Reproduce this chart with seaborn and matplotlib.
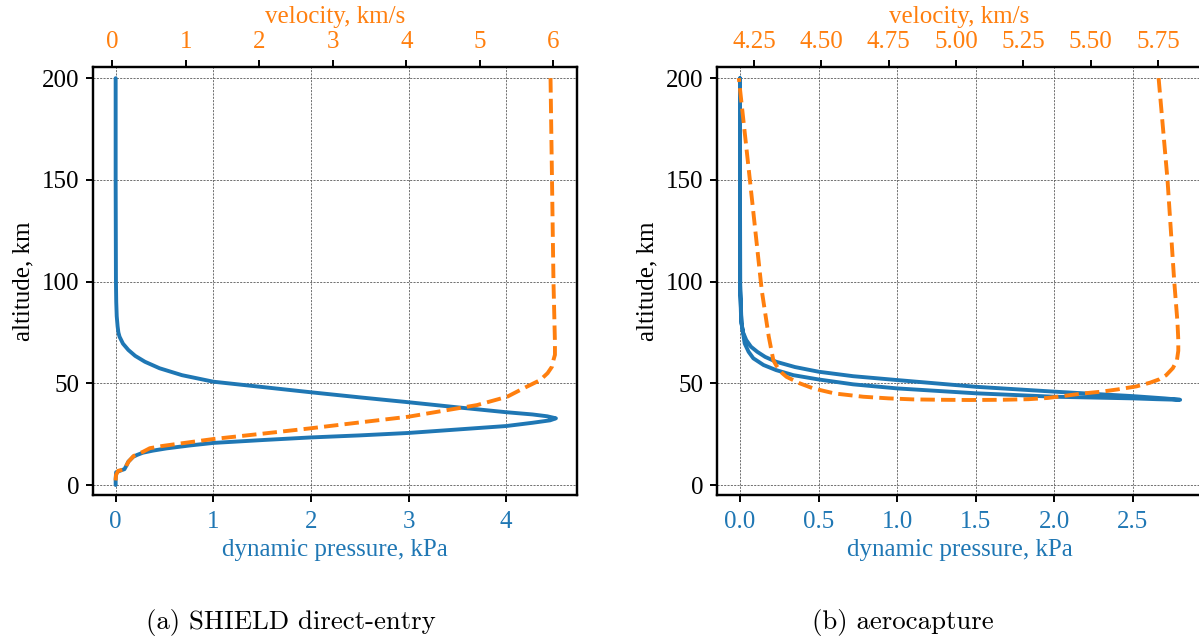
import matplotlib
matplotlib.use("Agg")
import matplotlib.pyplot as plt
import seaborn as sns

BLUE = "#1f77b4"
ORANGE = "#ff7f0e"

# ---------------- (a) SHIELD direct-entry ----------------
alt_q_a = [200, 150, 100, 90, 83, 78, 75, 72.9, 69.5, 66.4, 63.5, 60.6, 57.4, 54.0, 50.8,
           48.2, 45.6, 43.1, 40.7, 38.2, 35.8, 34.7, 33.8, 32.8, 31.8, 30.6, 29.0, 27.3,
           25.6, 24.4, 23.4, 22.1, 20.7, 19.4, 18.0, 16.9, 15.9, 14.8, 13.9, 11.5, 9.5,
           7.8, 7.3, 6.3, 3.0, 0.0]
q_a = [0.0, 0.0, 0.003, 0.006, 0.011, 0.02, 0.028, 0.04, 0.075, 0.13, 0.2, 0.30, 0.45, 0.68, 1.0,
       1.5, 2.0, 2.5, 3.0, 3.5, 4.0, 4.27, 4.42, 4.51, 4.45, 4.27, 4.0, 3.5,
       3.0, 2.5, 2.0, 1.5, 1.0, 0.75, 0.52, 0.38, 0.28, 0.22, 0.18, 0.13, 0.11,
       0.09, 0.06, 0.005, 0.0, 0.0]

alt_v_a = [200, 150, 100, 70, 64, 61.5, 58.2, 55, 51.6, 47.5, 43.4, 39.3, 36.5, 33.6, 30.8,
           27.9, 25.2, 22.6, 20.3, 19.2, 18.1, 16.4, 14.3, 11.5, 9.5, 7.7, 7.0, 4.9, 0.0]
v_a = [5.96, 5.98, 6.00, 6.02, 6.02, 6.00, 5.98, 5.92, 5.82, 5.59, 5.37, 4.96, 4.50, 4.03, 3.37,
       2.70, 2.03, 1.37, 0.90, 0.68, 0.51, 0.42, 0.29, 0.22, 0.19, 0.17, 0.08, 0.05, 0.04]

# ---------------- (b) aerocapture ----------------
alt_q_b = [200, 150, 100, 95.8, 85, 79.5, 75, 71.3, 68, 65.5, 63, 60.6, 58, 55.7, 53.5, 51.6,
           48.3, 45.9, 43.7, 42.6, 41.9,
           42.2, 42.6, 43.4, 45.1, 47.5, 49.5, 51.9, 54, 56.5, 59, 62.3, 65.5, 69.6, 79.5,
           95.8, 150, 200]
q_b = [0.0, 0.0, 0.0, 0.002, 0.006, 0.01, 0.02, 0.04, 0.07, 0.11, 0.16, 0.23, 0.35, 0.50, 0.72,
       1.0, 1.5, 2.0, 2.5, 2.7, 2.80,
       2.65, 2.5, 2.0, 1.5, 1.0, 0.72, 0.5, 0.34, 0.23, 0.15, 0.085, 0.055, 0.03, 0.01,
       0.002, 0.0, 0.0]

alt_v_b = [200, 150, 100, 80, 71.3, 66, 61.4, 57.5, 54, 52, 50.3, 48.5, 47, 45.9, 45, 43.8,
           42.8, 42.2, 41.9, 41.8, 41.9, 42.1, 42.6, 43.4, 45, 47.5, 50, 53.2, 55, 57, 59,
           61.4, 73, 95.8, 150, 200]
v_b = [5.752, 5.785, 5.81, 5.822, 5.825, 5.825, 5.82, 5.805, 5.78, 5.755, 5.72, 5.67, 5.60,
       5.54, 5.47, 5.40, 5.34, 5.27, 5.17, 5.05, 4.95, 4.84, 4.75, 4.656, 4.55, 4.47, 4.42,
       4.371, 4.355, 4.342, 4.332, 4.322, 4.305, 4.279, 4.235, 4.194]

alt_ticks = [0, 50, 100, 150, 200]
q_ticks_a = [0, 1, 2, 3, 4]
v_ticks_a = [0, 1, 2, 3, 4, 5, 6]
q_ticks_b = [0.0, 0.5, 1.0, 1.5, 2.0, 2.5]
v_ticks_b = [4.25, 4.50, 4.75, 5.00, 5.25, 5.50, 5.75]
captions = ["(a) SHIELD direct-entry", "(b) aerocapture"]

sns.set_style("ticks")
plt.rcParams['font.family'] = ['Liberation Serif', 'DejaVu Serif']
plt.rcParams['mathtext.fontset'] = 'stix'
plt.rcParams['text.color'] = 'k'

FS = 18
fig = plt.figure(figsize=(11.99, 6.42), dpi=100)


def panel(rect, alt_q, q, alt_v, v, qlim, vlim, qticks, qfmt, vticks, vfmt):
    ax = fig.add_axes(rect)
    ax2 = ax.twiny()
    sns.lineplot(x=q, y=alt_q, sort=False, estimator=None, color=BLUE, lw=2.8, ax=ax)
    sns.lineplot(x=v, y=alt_v, sort=False, estimator=None, color=ORANGE, lw=2.8,
                 linestyle='--', ax=ax2)
    ax.set_ylim(-4.9, 205.5)
    ax.set_xlim(*qlim)
    ax2.set_xlim(*vlim)
    ax.set_yticks(alt_ticks)
    ax.set_yticklabels([str(t) for t in alt_ticks])
    ax.set_xticks(qticks)
    ax.set_xticklabels([qfmt.format(t) for t in qticks])
    ax2.set_xticks(vticks)
    ax2.set_xticklabels([vfmt.format(t) for t in vticks])
    ax.grid(True, linestyle=(0, (2.5, 1.5)), color='0.35', linewidth=0.6)
    ax2.grid(False)
    for a in (ax, ax2):
        for s in a.spines.values():
            s.set_visible(True)
            s.set_color('k')
            s.set_linewidth(1.6)
    ax.tick_params(axis='x', labelcolor=BLUE, color='k', length=5, width=1.4,
                   labelsize=FS, direction='out', pad=6.5)
    ax.tick_params(axis='y', labelcolor='k', color='k', length=5, width=1.4,
                   labelsize=FS, direction='out', pad=5)
    ax2.tick_params(axis='x', labelcolor=ORANGE, color='k', length=5, width=1.4,
                    labelsize=FS, direction='out', pad=5)
    ax.set_xlabel('dynamic pressure, kPa', color=BLUE, fontsize=FS, labelpad=4.5)
    ax2.set_xlabel('velocity, km/s', color=ORANGE, fontsize=FS, labelpad=6)
    ax.set_ylabel('altitude, km', color='k', fontsize=FS, labelpad=5)
    return ax, ax2


panel([93 / 1199, 147 / 642, 484 / 1199, 428 / 642], alt_q_a, q_a, alt_v_a, v_a,
      (-0.232, 4.726), (-0.263, 6.32), q_ticks_a, "{:d}", v_ticks_a, "{:d}")
panel([717 / 1199, 147 / 642, 485 / 1199, 428 / 642], alt_q_b, q_b, alt_v_b, v_b,
      (-0.146, 2.939), (4.113, 5.913), q_ticks_b, "{:.1f}", v_ticks_b, "{:.2f}")

fig.text(291 / 1199, 1 - 623 / 642, captions[0], ha='center', va='center',
         family='cmr10', fontsize=19.3, color='k')
fig.text(903 / 1199, 1 - 623 / 642, captions[1], ha='center', va='center',
         family='cmr10', fontsize=19.3, color='k')

fig.savefig("out.png", dpi=100)
